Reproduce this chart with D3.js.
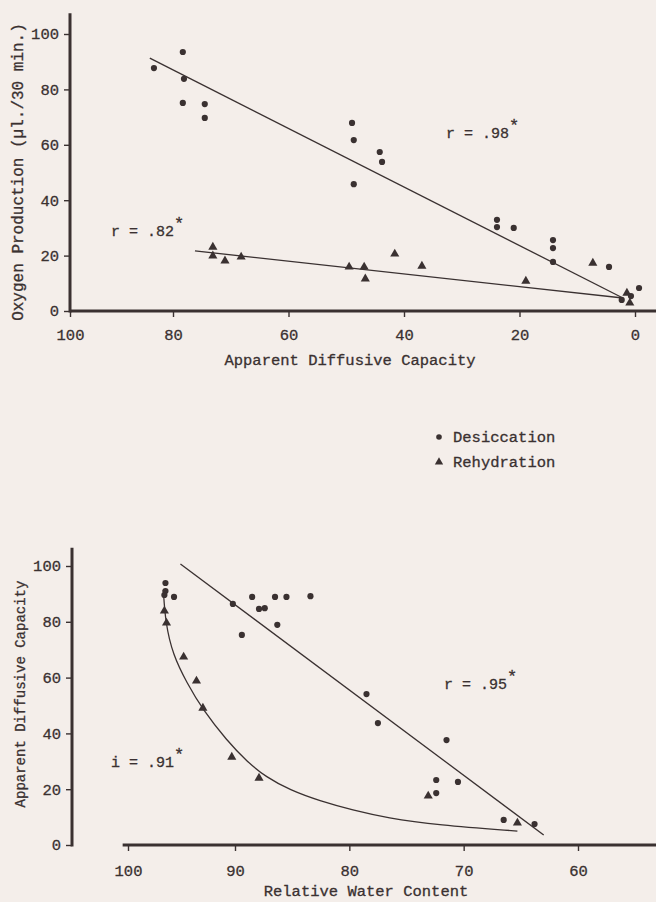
<!DOCTYPE html>
<html>
<head>
<meta charset="utf-8">
<script src="https://cdn.jsdelivr.net/npm/d3@7"></script>
<style>
  html, body { margin: 0; padding: 0; background: #f4eeea; }
  svg { display: block; }
  text { font-family: "Courier New", "Liberation Mono", "DejaVu Sans Mono", monospace; fill: #3a3131; stroke: #3a3131; stroke-width: 0.3px; }
</style>
</head>
<body>
<svg id="chart" width="656" height="902"></svg>
<script>
'use strict';

// upper panel: oxygen production against apparent diffusive capacity
let o2Desiccation = [
    [83.7, 87.7], [78.3, 93.5], [78.1, 83.8], [78.3, 75.1], [74.5, 74.7], [74.5, 69.7],
    [49.0, 67.9], [48.7, 61.7], [48.7, 45.8], [44.2, 57.4], [43.8, 53.8],
    [23.9, 32.9], [23.9, 30.3], [21.0, 30.0], [14.2, 25.6], [14.2, 22.7], [14.2, 17.7],
    [4.5, 15.9], [-0.7, 8.3], [0.7, 5.4], [2.3, 4.0]
]
let o2Rehydration = [
    [73.1, 23.1], [73.1, 19.9], [71.0, 18.1], [68.2, 19.5],
    [49.5, 15.9], [46.9, 15.9], [46.7, 11.6], [41.6, 20.6], [36.9, 16.2],
    [18.9, 10.8], [7.3, 17.3], [1.4, 6.5], [0.9, 2.9]
]
let o2DesiccationFit = [[84.5, 91.3], [2.1, 4.7]]
let o2RehydrationFit = [[76.2, 21.7], [2.1, 4.7]]
let o2XTicks = [100, 80, 60, 40, 20, 0]
let o2YTicks = [0, 20, 40, 60, 80, 100]

// lower panel: apparent diffusive capacity against relative water content
let adcDesiccation = [
    [96.5, 93.9], [96.5, 91.0], [96.6, 89.6], [95.7, 88.9], [90.2, 86.4], [89.4, 75.3],
    [88.5, 88.9], [87.9, 84.6], [87.4, 84.9], [86.5, 88.9], [86.3, 78.9], [85.5, 88.9],
    [83.4, 89.2], [78.5, 54.1], [77.5, 43.7], [71.5, 37.6], [72.4, 23.3], [72.4, 18.6],
    [70.5, 22.6], [66.5, 9.0], [63.8, 7.5]
]
let adcRehydration = [
    [96.6, 83.9], [96.4, 79.6], [94.8, 67.4], [93.6, 58.8], [93.0, 49.1],
    [90.3, 31.5], [87.9, 24.0], [73.1, 17.6], [65.3, 7.9]
]
let adcDesiccationFit = [[95.1, 100.7], [63.0, 3.6]]
let adcRehydrationFit = [
    [96.7, 91.4], [96.5, 79.6], [95.8, 68.1], [94.5, 58.1], [93.0, 48.4], [90.8, 37.6],
    [88.9, 29.7], [87.3, 24.4], [85.2, 19.7], [82.6, 15.8], [79.7, 12.5], [76.7, 9.7],
    [72.3, 7.2], [65.3, 5.0]
]
let rwcTicks = [100, 90, 80, 70, 60]
let adcTicks = [0, 20, 40, 60, 80, 100]

let ink = '#3a3131'

let figure = (function() {
    let svg = d3.select('#chart')
    let width = +svg.attr('width')

    function drawPanel(p) {
        let g = svg.append('g')
        let x = p.x
        let y = p.y

        // axes, drawn as heavy typed-figure strokes
        g.append('line')
            .attr('x1', x(p.xStart)).attr('x2', width)
            .attr('y1', y(0)).attr('y2', y(0))
            .attr('stroke', ink).attr('stroke-width', 3.2)
        g.append('line')
            .attr('x1', p.yAxisX).attr('x2', p.yAxisX)
            .attr('y1', y(0) + 1.5).attr('y2', y(p.yTop))
            .attr('stroke', ink).attr('stroke-width', 3)

        let xAxis = g.append('g')
            .attr('transform', 'translate(0,' + y(0) + ')')
            .call(d3.axisBottom(x).tickValues(p.xTicks).tickSize(6).tickPadding(p.xPad).tickSizeOuter(0))
        xAxis.select('.domain').remove()

        let yAxis = g.append('g')
            .attr('transform', 'translate(' + p.yAxisX + ',0)')
            .call(d3.axisLeft(y).tickValues(p.yTicks).tickSize(6).tickPadding(5).tickSizeOuter(0))
        yAxis.select('.domain').remove()

        g.selectAll('.tick line').attr('stroke', ink).attr('stroke-width', 1.4)
        g.selectAll('.tick text')
            .style('font-size', '15.5px')
            .attr('fill', ink)

        // fitted lines
        let line = d3.line()
            .x(function(d) { return x(d[0]) })
            .y(function(d) { return y(d[1]) })
            .curve(d3.curveBasis)
        g.append('path').datum(p.desFit)
            .attr('d', line).attr('fill', 'none').attr('stroke', ink).attr('stroke-width', 1.3)
        g.append('path').datum(p.rehFit)
            .attr('d', line).attr('fill', 'none').attr('stroke', ink).attr('stroke-width', 1.3)

        g.append('g').selectAll('circle')
            .data(p.des)
            .enter().append('circle')
            .attr('cx', function(d) { return x(d[0]) })
            .attr('cy', function(d) { return y(d[1]) })
            .attr('r', 3.1)
            .attr('fill', ink)

        let tri = d3.symbol().type(d3.symbolTriangle).size(36)
        g.append('g').selectAll('path')
            .data(p.reh)
            .enter().append('path')
            .attr('d', tri)
            .attr('transform', function(d) { return 'translate(' + x(d[0]) + ',' + y(d[1]) + ')' })
            .attr('fill', ink)

        // titles
        g.append('text')
            .attr('x', p.xTitle[0]).attr('y', p.xTitle[1])
            .attr('text-anchor', 'middle').attr('dy', '0.35em')
            .style('font-size', '15.5px')
            .text(p.xLabel)
        g.append('text')
            .attr('transform', 'translate(' + p.yTitle[0] + ',' + p.yTitle[1] + ') rotate(-90)')
            .attr('text-anchor', 'middle').attr('dy', '0.35em')
            .style('font-size', p.yLabelSize)
            .text(p.yLabel)

        p.notes.forEach(function(n) {
            let t = g.append('text')
                .attr('x', n.x).attr('y', n.y).attr('dy', '0.35em')
                .style('font-size', '15px')
            t.append('tspan').text(n.text)
            t.append('tspan').attr('dy', '-0.45em').style('font-size', '17px').text('*')
        })
    }

    function drawLegend() {
        let g = svg.append('g').attr('transform', 'translate(439,437)')
        g.append('circle').attr('cx', 0).attr('cy', 0).attr('r', 2.8).attr('fill', ink)
        g.append('path')
            .attr('d', d3.symbol().type(d3.symbolTriangle).size(30))
            .attr('transform', 'translate(0,25)')
            .attr('fill', ink)
        g.append('text').attr('x', 14).attr('y', 0).attr('dy', '0.35em')
            .style('font-size', '15.5px').text('Desiccation')
        g.append('text').attr('x', 14).attr('y', 25).attr('dy', '0.35em')
            .style('font-size', '15.5px').text('Rehydration')
    }

    function render() {
        drawPanel({
            x: d3.scaleLinear().domain([100, 80, 0]).range([70, 173, 635]),
            y: d3.scaleLinear().domain([0, 100]).range([311, 34]),
            xStart: 100, yTop: 107.5, yAxisX: 70, xPad: 12,
            xTicks: o2XTicks, yTicks: o2YTicks,
            des: o2Desiccation, reh: o2Rehydration,
            desFit: o2DesiccationFit, rehFit: o2RehydrationFit,
            xLabel: 'Apparent Diffusive Capacity', xTitle: [350, 360],
            yLabel: 'Oxygen Production (\u00b5l./30 min.)', yTitle: [17, 172], yLabelSize: '16px',
            notes: [{ x: 446, y: 133, text: 'r = .98' }, { x: 111, y: 231, text: 'r = .82' }]
        })
        drawPanel({
            x: d3.scaleLinear().domain([100, 90, 60]).range([128, 235, 578]),
            y: d3.scaleLinear().domain([0, 100]).range([845, 566]),
            xStart: 100.5, yTop: 106.5, yAxisX: 72, xPad: 14,
            xTicks: rwcTicks, yTicks: adcTicks,
            des: adcDesiccation, reh: adcRehydration,
            desFit: adcDesiccationFit, rehFit: adcRehydrationFit,
            xLabel: 'Relative Water Content', xTitle: [366, 891],
            yLabel: 'Apparent Diffusive Capacity', yTitle: [20, 694], yLabelSize: '14px',
            notes: [{ x: 444, y: 684, text: 'r = .95' }, { x: 111, y: 762, text: 'i = .91' }]
        })
        drawLegend()
    }

    return {
        render
    }
}())

figure.render()
</script>
</body>
</html>
